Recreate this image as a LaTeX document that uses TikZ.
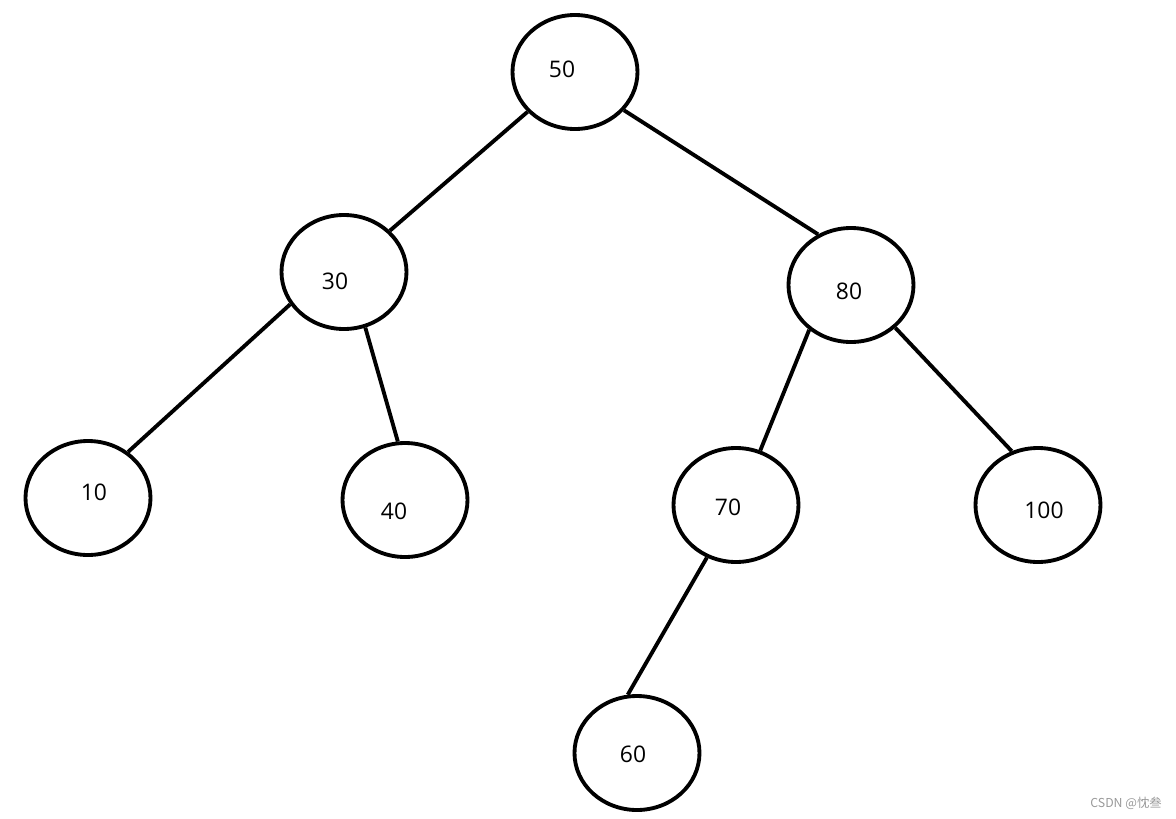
\documentclass[tikz,border=0pt]{standalone}
\usepackage{fontspec}
\setmainfont{Open Sans}
\newfontfamily\cjkfont{Noto Sans CJK SC}
\usetikzlibrary{shapes.geometric}

\begin{document}
\begin{tikzpicture}[node distance=4cm, line width=2.2pt]  % drzewo BST
                \tikzset{treenode/.style={ellipse, draw, minimum width=2.5cm, minimum height=2.28cm, inner sep=0pt}}
                \useasboundingbox (-11.5,1.44) rectangle (12.02,-14.92);
                % Wezly
                \node (n50) [treenode, label={[shift={(-0.26,0.06)}, font=\fontsize{13}{15}\selectfont]center:50}] {};
                \node (n30) [treenode, below of=n50, xshift=-4.62cm, label={[shift={(-0.18,-0.18)}, font=\fontsize{13}{15}\selectfont]center:30}] {};
                \node (n80) [treenode, below of=n50, xshift=5.52cm, yshift=-0.26cm, label={[shift={(-0.04,-0.12)}, font=\fontsize{13}{15}\selectfont]center:80}] {};
                \node (n10) [treenode, below of=n30, xshift=-5.12cm, yshift=-0.52cm, label={[shift={(0.12,0.12)}, font=\fontsize{13}{15}\selectfont]center:10}] {};
                \node (n40) [treenode, below of=n30, xshift=1.22cm, yshift=-0.56cm, label={[shift={(-0.22,-0.22)}, font=\fontsize{13}{15}\selectfont]center:40}] {};
                \node (n70) [treenode, below of=n80, xshift=-2.3cm, yshift=-0.4cm, label={[shift={(-0.16,-0.04)}, font=\fontsize{13}{15}\selectfont]center:70}] {};
                \node (n100) [treenode, below of=n80, xshift=3.74cm, yshift=-0.4cm, label={[shift={(0.12,-0.1)}, font=\fontsize{13}{15}\selectfont]center:100}] {};
                \node (n60) [treenode, below of=n70, xshift=-1.98cm, yshift=-0.96cm, label={[shift={(-0.08,-0.02)}, font=\fontsize{13}{15}\selectfont]center:60}] {};

                % Krawedzie
                \draw (n50.220) -- (n30.42);
                \draw (n50.322) -- (n80.123);
                \draw (n30.211) -- (n10.49);
                \draw (n30.291) -- (n40.97);
                \draw (n80.227) -- (n70.66);
                \draw (n80.316) -- (n100.116);
                \draw (n70.241) -- (n60.99);

                \node (mark) [text=gray!80, font=\cjkfont\fontsize{7}{8}\selectfont] at (11.02,-14.62) {CSDN @忱叁};
            \end{tikzpicture}
\end{document}
